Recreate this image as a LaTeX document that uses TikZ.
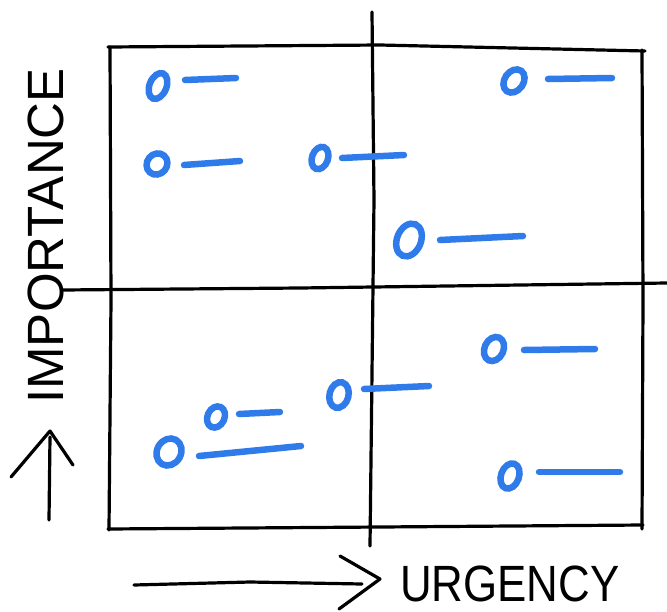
\documentclass[tikz,border=0pt]{standalone}
\usepackage{fontspec}
\setmainfont{Liberation Sans}
\begin{document}
\begin{tikzpicture}[x=1pt,y=-1pt,
  frame/.style={line width=3.2pt,black,line cap=round,line join=round},
  bluemark/.style={line width=6.5pt,draw=markblue,line cap=round},
  lbl/.style={inner sep=0pt,font=\fontsize{51}{51}\selectfont}]
\definecolor{markblue}{HTML}{2F7BEA}
\useasboundingbox (0,0) rectangle (667,611);
% frame
\draw[frame] (108,47) -- (380,45) -- (645,51);
\draw[frame] (110,47) -- (111,300) -- (109,530);
\draw[frame] (642,50) -- (643,300) -- (642,529);
\draw[frame] (108,529) -- (380,527) -- (643,525);
\draw[frame] (62,290) -- (300,288) -- (667,283);
\draw[frame] (372,12) -- (374,200) -- (370,546);
% blue marks
\draw[bluemark] (158,86) ellipse[x radius=8.5,y radius=13.5,rotate=-22];
\draw[bluemark] (185,80) -- (236,78);
\draw[bluemark] (514,81) ellipse[x radius=9.5,y radius=12.5,rotate=-35];
\draw[bluemark] (548,79) -- (612,78);
\draw[bluemark] (157,164) ellipse[x radius=10,y radius=11,rotate=-40];
\draw[bluemark] (184,165) -- (240,161);
\draw[bluemark] (320,158) ellipse[x radius=8,y radius=11.5,rotate=-20];
\draw[bluemark] (342,158) -- (404,155);
\draw[bluemark] (409,240) ellipse[x radius=12,y radius=17,rotate=-22];
\draw[bluemark] (440,240) -- (523,236);
\draw[bluemark] (494,349) ellipse[x radius=9.5,y radius=12.5,rotate=-25];
\draw[bluemark] (524,350) -- (595,349);
\draw[bluemark] (339,395) ellipse[x radius=9.5,y radius=13,rotate=-15];
\draw[bluemark] (364,389) -- (429,386);
\draw[bluemark] (216,417) ellipse[x radius=8.5,y radius=11,rotate=-25];
\draw[bluemark] (239,414) -- (280,412);
\draw[bluemark] (169,452) ellipse[x radius=12,y radius=14,rotate=-30];
\draw[bluemark] (199,456) -- (301,446);
\draw[bluemark] (510,476) ellipse[x radius=9,y radius=13,rotate=-20];
\draw[bluemark] (539,472) -- (620,472);
% axis labels and arrows
\node[lbl,rotate=90,anchor=center] (imp) at (46,236) {IMPORTANCE};
\draw[frame] (49,520) -- (50,437);
\draw[frame] (11,477) -- (50,431) -- (73,465);
\node[lbl,anchor=west,xscale=0.86] (urg) at (400,584) {URGENCY};
\draw[frame] (134,585) -- (250,582) -- (362,584);
\draw[frame] (340,556) -- (380,579) -- (339,609);
\end{tikzpicture}
\end{document}
